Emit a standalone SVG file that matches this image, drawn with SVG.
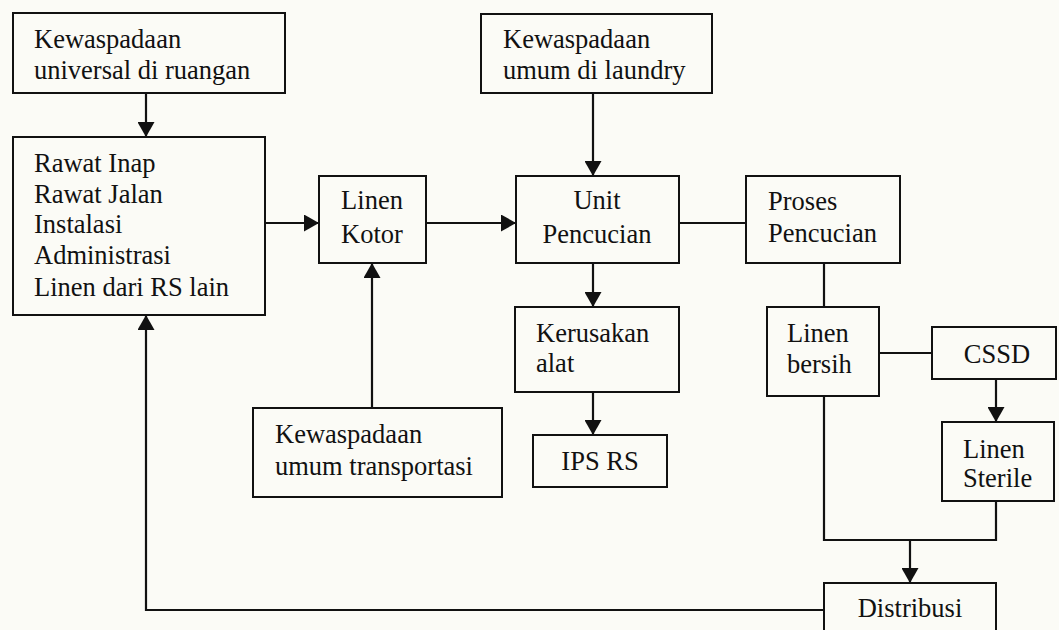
<svg xmlns="http://www.w3.org/2000/svg" width="1059" height="630" viewBox="0 0 1059 630">
<defs>
<style>
.box{fill:none;stroke:#111;stroke-width:2}
.ln{fill:none;stroke:#111;stroke-width:2.2}
.ar{marker-end:url(#ah)}
.t{font-family:'Liberation Serif','Times New Roman',serif;font-size:26.5px;fill:#111}
.c{text-anchor:middle}
</style>
<marker id="ah" markerUnits="userSpaceOnUse" markerWidth="15" markerHeight="17" refX="15" refY="8.5" orient="auto">
<path d="M0,0 L15,8.5 L0,17 Z" fill="#111"/>
</marker>
</defs>
<rect width="1059" height="630" fill="#fbfbf6"/>

<g id="connectors">
<line class="ln ar" x1="146" y1="93" x2="146" y2="137"/>
<line class="ln ar" x1="265" y1="223" x2="319" y2="223"/>
<line class="ln ar" x1="426" y1="223" x2="516" y2="223"/>
<line class="ln ar" x1="593" y1="93" x2="593" y2="176"/>
<line class="ln" x1="679" y1="223" x2="746" y2="223"/>
<line class="ln ar" x1="593" y1="263" x2="593" y2="307"/>
<line class="ln ar" x1="593" y1="392" x2="593" y2="435"/>
<line class="ln ar" x1="372" y1="408" x2="372" y2="263"/>
<line class="ln" x1="824" y1="263" x2="824" y2="307"/>
<line class="ln" x1="879" y1="353" x2="932" y2="353"/>
<line class="ln ar" x1="996" y1="379" x2="996" y2="422"/>
<path class="ln" d="M824,396 V540 H996 V501"/>
<line class="ln ar" x1="910" y1="540" x2="910" y2="583"/>
<path class="ln ar" d="M824,610 H146 V315"/>
</g>

<g id="kewaspadaan-ruangan">
<rect class="box" x="13" y="13" width="272" height="80"/>
<text class="t" x="34" y="48">Kewaspadaan</text>
<text class="t" x="34" y="79">universal di ruangan</text>
</g>

<g id="sumber">
<rect class="box" x="13" y="137" width="252" height="178"/>
<text class="t" x="34" y="172">Rawat Inap</text>
<text class="t" x="34" y="203">Rawat Jalan</text>
<text class="t" x="34" y="233">Instalasi</text>
<text class="t" x="34" y="264">Administrasi</text>
<text class="t" x="34" y="296">Linen dari RS lain</text>
</g>

<g id="linen-kotor">
<rect class="box" x="319" y="176" width="107" height="87"/>
<text class="t c" x="372" y="209">Linen</text>
<text class="t c" x="372" y="243">Kotor</text>
</g>

<g id="kewaspadaan-laundry">
<rect class="box" x="481" y="14" width="231" height="79"/>
<text class="t" x="503" y="48">Kewaspadaan</text>
<text class="t" x="503" y="79">umum di laundry</text>
</g>

<g id="unit-pencucian">
<rect class="box" x="516" y="176" width="163" height="87"/>
<text class="t c" x="597" y="209">Unit</text>
<text class="t c" x="597" y="243">Pencucian</text>
</g>

<g id="proses-pencucian">
<rect class="box" x="746" y="176" width="154" height="87"/>
<text class="t" x="768" y="210">Proses</text>
<text class="t" x="768" y="242">Pencucian</text>
</g>

<g id="linen-bersih">
<rect class="box" x="767" y="307" width="112" height="89"/>
<text class="t" x="787" y="342">Linen</text>
<text class="t" x="787" y="373">bersih</text>
</g>

<g id="kerusakan-alat">
<rect class="box" x="515" y="307" width="164" height="85"/>
<text class="t" x="536" y="342">Kerusakan</text>
<text class="t" x="536" y="372">alat</text>
</g>

<g id="ips-rs">
<rect class="box" x="533" y="435" width="134" height="52"/>
<text class="t c" x="600" y="470">IPS RS</text>
</g>

<g id="kewaspadaan-transportasi">
<rect class="box" x="253" y="408" width="249" height="89"/>
<text class="t" x="275" y="443">Kewaspadaan</text>
<text class="t" x="275" y="475">umum transportasi</text>
</g>

<g id="cssd">
<rect class="box" x="932" y="327" width="124" height="52"/>
<text class="t c" x="997" y="363">CSSD</text>
</g>

<g id="linen-sterile">
<rect class="box" x="942" y="422" width="112" height="79"/>
<text class="t" x="963" y="458">Linen</text>
<text class="t" x="963" y="487">Sterile</text>
</g>

<g id="distribusi">
<rect class="box" x="824" y="583" width="172" height="60"/>
<text class="t c" x="910" y="617">Distribusi</text>
</g>
</svg>
